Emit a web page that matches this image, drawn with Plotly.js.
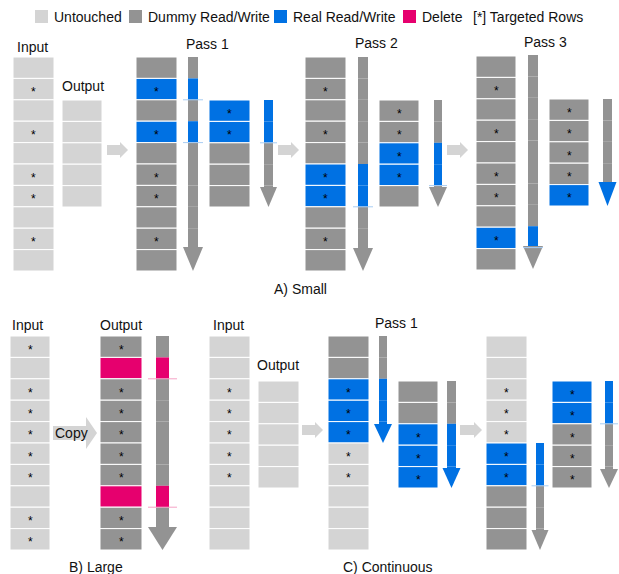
<!DOCTYPE html>
<html><head><meta charset="utf-8">
<script src="https://cdn.plot.ly/plotly-3.0.1.min.js"></script>
<style>html,body{margin:0;padding:0;background:#fff}</style>
</head><body><div id="chart" style="width:619px;height:574px"></div>
<script>
// ---------- data: cell states (u=untouched, d=dummy, b=real, p=delete; * = targeted) ----------
const legendLabels = ['Untouched', 'Dummy Read/Write', 'Real Read/Write', 'Delete'];
const legendKeys = ['u', 'd', 'b', 'p'];
const legendNote = '[*] Targeted Rows';

const smallInput     = ['u','u*','u','u*','u','u*','u*','u','u*','u'];
const smallOutput    = ['u','u','u','u','u'];
const smallPass1     = ['d','b*','d','b*','d','d*','d*','d','d*','d'];
const smallPass1Out  = ['b*','b*','d','d','d'];
const smallPass2     = ['d','d*','d','d*','d','b*','b*','d','d*','d'];
const smallPass2Out  = ['d*','d*','b*','b*','d'];
const smallPass3     = ['d','d*','d','d*','d','d*','d*','d','b*','d'];
const smallPass3Out  = ['d*','d*','d*','d*','b*'];

const largeInput     = ['u*','u','u*','u*','u*','u*','u*','u','u*','u*'];
const largeOutput    = ['d*','p','d*','d*','d*','d*','d*','p','d*','d*'];

const contInput      = ['u','u','u*','u*','u*','u*','u*','u','u','u'];
const contOutput     = ['u','u','u','u','u'];
const contPass1      = ['d','d','b*','b*','b*','u*','u*','u','u','u'];
const contPass1Out   = ['d','d','b*','b*','b*'];
const contPass2      = ['u','u','u*','u*','u*','b*','b*','d','d','d'];
const contPass2Out   = ['b*','b*','d*','d*','d*'];

// scan arrows: colour of each row the scan passes over
const arrSmallPass1    = ['d','b','d','b','d','d','d','d','d','d'];
const arrSmallPass1Out = ['b','b','d','d','d'];
const arrSmallPass2    = ['d','d','d','d','d','b','b','d','d','d'];
const arrSmallPass2Out = ['d','d','b','b','d'];
const arrSmallPass3    = ['d','d','d','d','d','d','d','d','b','d'];
const arrSmallPass3Out = ['d','d','d','d','b'];
const arrLarge         = ['d','p','d','d','d','d','d','p','d','d'];
const arrContPass1     = ['d','d','b','b','b'];
const arrContPass1Out  = ['d','d','b','b','b'];
const arrContPass2     = ['b','b','d','d','d'];
const arrContPass2Out  = ['b','b','d','d','d'];

const titles = ['Input','Output','Pass 1','Pass 2','Pass 3','Input','Output','Copy','Input','Output','Pass 1'];
const captions = ['A) Small','B) Large','C) Continuous'];

// ---------- styles / layout ----------
const COL = {u:'#d4d4d4', d:'#939393', b:'#0071e3', p:'#e6006e'};
const FAINT = {b:'#a9cdf3', p:'#f5a3c6'};
const ROW = 21.4;
const FONT = 'Liberation Sans, Arial, sans-serif';

const shapes = [];
const annotations = [];

function rect(x0,y0,x1,y1,fill,line){
  shapes.push({type:'rect',xref:'x',yref:'y',x0,y0,x1,y1,fillcolor:fill,
    line:line?{color:line,width:1}:{width:0},layer:'above'});
}
function text(x,y,t,size,opts){
  annotations.push(Object.assign({x,y,xref:'x',yref:'y',text:t,showarrow:false,
    font:{family:FONT,size:size,color:'#111'},xanchor:'center',yanchor:'middle'},opts||{}));
}
function column(x0,x1,y0,cells){
  cells.forEach((c,i)=>{
    const k=c[0];
    const ya=y0+i*ROW, yb=ya+ROW;
    rect(x0,ya,x1,yb,COL[k],'#ffffff');
    if(c.includes('*')) text((x0+x1)/2,(ya+yb)/2+3,'*',12,{font:{family:FONT,size:12,color:'#000'}});
  });
}
function scan(cx,w,hw,hh,y0,segs){
  const yEnd = y0+segs.length*ROW;
  const headTop = yEnd-hh;
  segs.forEach((s,i)=>{
    const ya=y0+i*ROW;
    let yb=Math.min(ya+ROW,headTop);
    if(ya<headTop) rect(cx-w/2,ya,cx+w/2,yb,COL[s]);
  });
  const hc = COL[segs[segs.length-1]];
  shapes.push({type:'path',xref:'x',yref:'y',
    path:`M ${cx-hw/2} ${headTop} L ${cx+hw/2} ${headTop} L ${cx} ${yEnd} Z`,
    fillcolor:hc,line:{width:0},layer:'above'});
  // faint marks where a real/delete stretch ends
  segs.forEach((s,i)=>{
    const nxt=segs[i+1];
    if((s==='b'||s==='p') && nxt==='d'){
      const y=y0+(i+1)*ROW;
      shapes.push({type:'line',xref:'x',yref:'y',x0:cx-hw/2,x1:cx+hw/2,y0:y,y1:y,
        line:{color:FAINT[s],width:1},layer:'above'});
    }
  });
}
function flow(x0,x1,y,sh,hh,hl,col){
  shapes.push({type:'path',xref:'x',yref:'y',
    path:`M ${x0} ${y-sh} L ${x1-hl} ${y-sh} L ${x1-hl} ${y-hh} L ${x1} ${y} L ${x1-hl} ${y+hh} L ${x1-hl} ${y+sh} L ${x0} ${y+sh} Z`,
    fillcolor:col||'#d4d4d4',line:{width:0},layer:'above'});
}

// legend
const legX = [35,129,274,403];
legendKeys.forEach((k,i)=>{
  rect(legX[i],10,legX[i]+13,23,COL[k]);
  text(legX[i]+17,16.5,legendLabels[i],14,{xanchor:'left'});
});
text(471,16.5,legendNote,14,{xanchor:'left'});

// A) Small
column(13,54,57,smallInput);
column(62,102,100,smallOutput);
column(136,177,57,smallPass1);
column(209,250,100,smallPass1Out);
column(305,346,57,smallPass2);
column(379,419,100,smallPass2Out);
column(476,516,56,smallPass3);
column(549,589,99,smallPass3Out);
scan(193,10,20,24,57,arrSmallPass1);
scan(268.5,9,17,20,100,arrSmallPass1Out);
scan(363,10,20,23,57,arrSmallPass2);
scan(438,8,18,20,100,arrSmallPass2Out);
scan(533,10,20,23,55,arrSmallPass3);
scan(607.5,9,18,24,99,arrSmallPass3Out);
flow(107,128,150,5,8,8);
flow(278,299,150,5,8,8);
flow(447,468,150,5,8,8);
text(32,47,titles[0],14);
text(82.5,86,titles[1],14);
text(207,44,titles[2],14);
text(376,43,titles[3],14);
text(545,42,titles[4],14);
text(300,289,captions[0],14);

// B) Large
column(10,50,336,largeInput);
column(100,142,336,largeOutput);
scan(162.5,13,29,23,336,arrLarge);
flow(53,97,433,7,16,11);
text(27.5,325,titles[5],14);
text(121,325,titles[6],14);
text(71,433,titles[7],14);
text(96,567,captions[1],14);

// C) Continuous
column(209,250,336,contInput);
column(258,299,381,contOutput);
column(328,369,336,contPass1);
column(398,438,381,contPass1Out);
column(486,527,336,contPass2);
column(552,592,381,contPass2Out);
scan(383,8,18,19,336,arrContPass1);
scan(451.5,9,18,20,381,arrContPass1Out);
scan(540,8,17,20,336+5*ROW,arrContPass2);
scan(609,8,18,19,381,arrContPass2Out);
flow(302,323,430,5,8,8);
flow(460,482,430,5,8,8);
text(228,325,titles[8],14);
text(278,365,titles[9],14);
text(396,323,titles[10],14);
text(388,567,captions[2],14);

const layout = {
  width:619,height:574,margin:{l:0,r:0,t:0,b:0},
  paper_bgcolor:'#fff',plot_bgcolor:'#fff',showlegend:false,
  xaxis:{range:[0,619],visible:false,fixedrange:true},
  yaxis:{range:[574,0],visible:false,fixedrange:true},
  shapes,annotations
};
Plotly.newPlot('chart',[{x:[0],y:[0],mode:'markers',marker:{opacity:0},hoverinfo:'skip'}],layout,{staticPlot:true,displayModeBar:false});
</script></body></html>
